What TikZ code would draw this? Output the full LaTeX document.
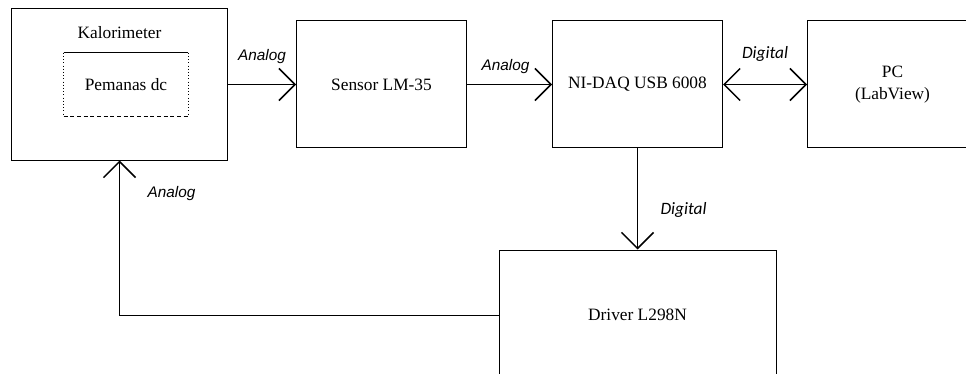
\documentclass[tikz,border=0pt]{standalone}
\usepackage{fontspec}
\setmainfont{Liberation Serif}
\newfontfamily\arialfont{Liberation Sans}
\newfontfamily\calibrifont{Carlito}
\usetikzlibrary{arrows.meta, positioning}

\begin{document}
\begin{tikzpicture}[x=0.75pt, y=-0.75pt,
font=\fontsize{13}{15}\selectfont,
block/.style={rectangle, draw=black, line width=0.75pt, inner sep=0pt,
minimum width=127.5pt, minimum height=95.25pt, align=center},
lblA/.style={font=\arialfont\itshape\fontsize{11.5}{13}\selectfont},
lblD/.style={font=\calibrifont\itshape\fontsize{13}{15}\selectfont},
arrow/.style={-{Straight Barb[length=12pt, width=24pt, line width=1.1pt]}, line width=0.75pt},
darrow/.style={{Straight Barb[length=12pt, width=24pt, line width=1.1pt]}-{Straight Barb[length=12pt, width=24pt, line width=1.1pt]}, line width=0.75pt}]

\useasboundingbox (0,0) rectangle (966,374);

% blocks
\node[block, minimum width=162pt, minimum height=113.25pt] (kal) at (119.5,84.5) {};
\node (kaltitle) at ([yshift=-18pt]kal.north) {Kalorimeter};
\node[minimum width=93pt, minimum height=47.25pt] (heater) at (126,84.5) {Pemanas dc};
\node[block, right=51pt of kal] (sensor) {Sensor LM-35};
\node[block, right=63.75pt of sensor] (daq) {NI-DAQ USB 6008};
\node[block, right=63pt of daq] (pc) {PC\\[1.5pt](LabView)};
\node[block, minimum width=207.75pt, minimum height=97.5pt, below=75.75pt of daq] (driver)
    {Driver L298N};

% heater frame
\draw[line width=0.6pt] (heater.north west) -- (heater.north east);
\draw[dotted] (heater.north west) -- (heater.south west);
\draw[dotted] (heater.north east) -- (heater.south east);
\draw[densely dashed, line width=0.6pt] (heater.south west) -- (heater.south east);

% signals
\draw[arrow] (kal) -- (sensor)
    node[lblA, midway, yshift=21pt] (sig1) {Analog};
\draw[arrow] (sensor) -- (daq)
    node[lblA, midway, xshift=-3pt, yshift=13.5pt] (sig2) {Analog};
\draw[darrow] (daq) -- (pc)
    node[lblD, midway, yshift=23pt] (sig3) {Digital};
\draw[arrow] (daq) -- (driver)
    node[lblD, midway, xshift=34.5pt, yshift=-8pt] (sig4) {Digital};
\draw[arrow] (driver.west) -| (kal.south);
\node[lblA] (sig5) at ([xshift=39pt, yshift=-24.75pt]kal.south) {Analog};
\end{tikzpicture}
\end{document}
